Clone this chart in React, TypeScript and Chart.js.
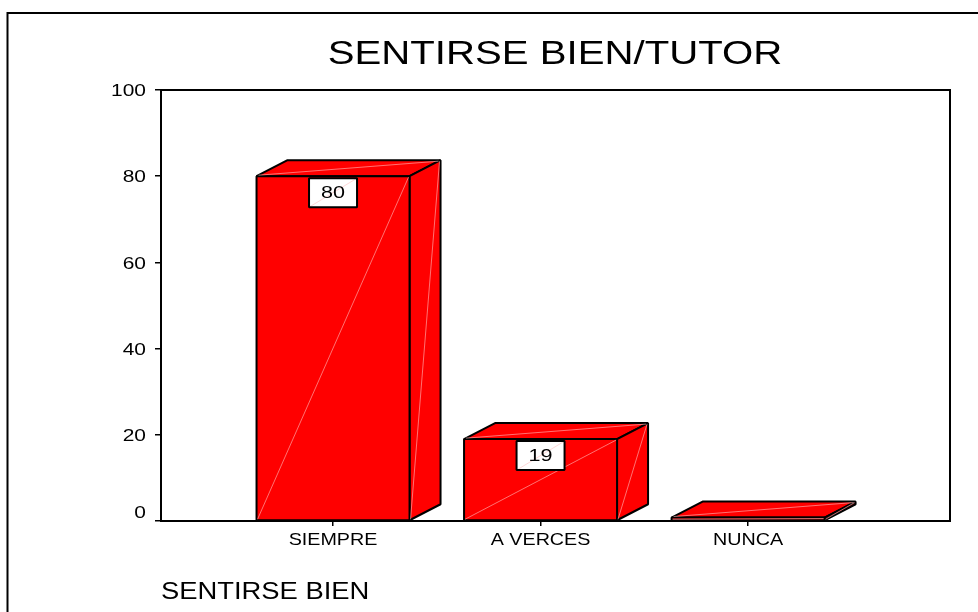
import React, { useEffect, useRef } from "react";
import { Chart, registerables } from "chart.js";

Chart.register(...registerables);

const categories = ["SIEMPRE", "A VERCES", "NUNCA"];
const positions = [1, 2, 3];
const values = [80, 19, 0.8];
const shownLabels = ["80", "19", ""];
const yTicks = [0, 20, 40, 60, 80, 100];
const chartTitle = "SENTIRSE BIEN/TUTOR";
const axisTitle = "SENTIRSE BIEN";

const DX = 31;
const DY = 16;
const RED = "#ff0000";
const SHEEN = "rgba(255,190,190,0.6)";

function line(ctx: CanvasRenderingContext2D, x1: number, y1: number, x2: number, y2: number) {
  ctx.beginPath();
  ctx.moveTo(x1, y1);
  ctx.lineTo(x2, y2);
  ctx.stroke();
}

function poly(ctx: CanvasRenderingContext2D, pts: number[][]) {
  ctx.beginPath();
  pts.forEach((p, i) => (i ? ctx.lineTo(p[0], p[1]) : ctx.moveTo(p[0], p[1])));
  ctx.closePath();
  ctx.fillStyle = RED;
  ctx.fill();
  ctx.strokeStyle = "#000";
  ctx.lineWidth = 2;
  ctx.lineJoin = "bevel";
  ctx.stroke();
}

// The reference's lettering is widened; stretch each string about its own anchor.
function withWideText(ctx: any, sx: number, dy: number, draw: () => void) {
  const fill = ctx.fillText;
  ctx.fillText = function (text: string, x: number, y: number) {
    ctx.save();
    ctx.translate(x, y + dy);
    ctx.scale(sx, 1);
    fill.call(ctx, text, 0, 0);
    ctx.restore();
  };
  draw();
  delete ctx.fillText;
}

function widen(chart: any, target: any, method: string, sx: number, dy = 0) {
  const original = target[method].bind(target);
  target[method] = (...args: any[]) => withWideText(chart.ctx, sx, dy, () => original(...args));
}

const frame3d = {
  id: "frame3d",
  afterLayout(chart: any) {
    if (chart.titleBlock) {
      chart.titleBlock.left = 132;
      chart.titleBlock.right = 978;
    }
    if (!chart.$wide) {
      chart.$wide = true;
      widen(chart, chart.titleBlock, "draw", 1.217);
      widen(chart, chart.scales.x, "drawLabels", 1.16, 1);
      widen(chart, chart.scales.x, "drawTitle", 1.19);
      widen(chart, chart.scales.y, "drawLabels", 1.23, 1.5);
    }
  },
  beforeDatasetsDraw(chart: any) {
    const { ctx, chartArea: a } = chart;
    ctx.save();
    ctx.strokeStyle = "#000";
    ctx.lineWidth = 2;
    // outer frame of the picture
    ctx.beginPath();
    ctx.moveTo(7.5, 612);
    ctx.lineTo(7.5, 13);
    ctx.lineTo(978, 13);
    ctx.stroke();
    // plot frame
    ctx.strokeRect(a.left, a.top, a.right - a.left, a.bottom - a.top);
    ctx.restore();
  },
  afterDatasetsDraw(chart: any) {
    const { ctx } = chart;
    const meta = chart.getDatasetMeta(0);
    ctx.save();
    meta.data.forEach((bar: any, i: number) => {
      const l = bar.x - bar.width / 2;
      const r = bar.x + bar.width / 2;
      const t = bar.y;
      const b = bar.base;
      poly(ctx, [[l, t], [l + DX, t - DY], [r + DX, t - DY], [r, t]]);
      poly(ctx, [[r, t], [r + DX, t - DY], [r + DX, b - DY], [r, b]]);
      poly(ctx, [[l, t], [r, t], [r, b], [l, b]]);
      ctx.strokeStyle = SHEEN;
      ctx.lineWidth = 1;
      line(ctx, l + 1, b - 1, r - 1, t + 1);
      line(ctx, r + 1, b - 1, r + DX - 1, t - DY + 1);
      line(ctx, l + 2, t - 1, r + DX - 2, t - DY + 1);
      if (shownLabels[i]) {
        const w = 48;
        const h = 29;
        const top = t + 2;
        const left = bar.x - w / 2;
        ctx.fillStyle = "#fff";
        ctx.fillRect(left, top, w, h);
        line(ctx, left, top + h, left + w, top);
        ctx.strokeStyle = "#000";
        ctx.lineWidth = 2;
        ctx.strokeRect(left, top, w, h);
        ctx.fillStyle = "#000";
        ctx.font = '17px "Liberation Sans"';
        ctx.textAlign = "center";
        ctx.textBaseline = "middle";
        withWideText(ctx, 1.27, 0, () => ctx.fillText(shownLabels[i], bar.x, top + h / 2 + 1));
      }
    });
    ctx.restore();
  },
};

export default function App() {
  const ref = useRef<HTMLCanvasElement>(null);
  useEffect(() => {
    const chart = new Chart(ref.current as HTMLCanvasElement, {
      type: "bar",
      data: {
        labels: positions as any,
        datasets: [
          {
            data: positions.map((p, i) => ({ x: p, y: values[i] })) as any,
            backgroundColor: RED,
            borderColor: "#000",
            borderWidth: 0,
            barThickness: 153,
          },
        ],
      },
      plugins: [frame3d],
      options: {
        responsive: false,
        animation: false,
        layout: { padding: { left: 0, right: 28, top: 0, bottom: 0 } },
        plugins: {
          legend: { display: false },
          tooltip: { enabled: false },
          title: {
            display: true,
            text: chartTitle,
            color: "#000",
            font: { family: '"Liberation Sans"', size: 33, weight: "normal" },
            padding: { top: 34.7, bottom: 15.7 },
          },
        },
        scales: {
          x: {
            type: "linear",
            offset: false,
            min: 0.171,
            max: 3.973,
            afterBuildTicks(scale: any) {
              scale.ticks = positions.map((v) => ({ value: v }));
            },
            afterFit(scale: any) {
              scale.height = 91;
            },
            grid: { offset: false, drawOnChartArea: false, tickLength: 5, color: "#000", lineWidth: 1.5 },
            border: { display: false },
            ticks: {
              color: "#000",
              maxRotation: 0,
              autoSkip: false,
              padding: 3,
              font: { family: '"Liberation Sans"', size: 17 },
              callback: (v: any) => categories[positions.indexOf(Number(v))],
            },
            title: {
              display: true,
              text: axisTitle,
              align: "start",
              color: "#000",
              font: { family: '"Liberation Sans"', size: 23 },
              padding: { top: 0, bottom: 6 },
            },
          },
          y: {
            min: 0,
            max: 100,
            afterBuildTicks(scale: any) {
              scale.ticks = yTicks.map((v) => ({ value: v }));
            },
            afterFit(scale: any) {
              scale.width = 161;
            },
            grid: { drawOnChartArea: false, tickLength: 6, color: "#000", lineWidth: 1.5 },
            border: { display: false },
            ticks: {
              color: "#000",
              padding: 9,
              font: { family: '"Liberation Sans"', size: 17, lineHeight: 1.1 },
              callback: (v: any) => (v === 0 ? ["0", ""] : String(v)),
            },
          },
        },
      } as any,
    });
    return () => chart.destroy();
  }, []);
  return (
    <canvas
      ref={ref}
      width={978}
      height={612}
      style={{ position: "fixed", left: 0, top: 0, width: 978, height: 612, background: "#fff" }}
    />
  );
}
